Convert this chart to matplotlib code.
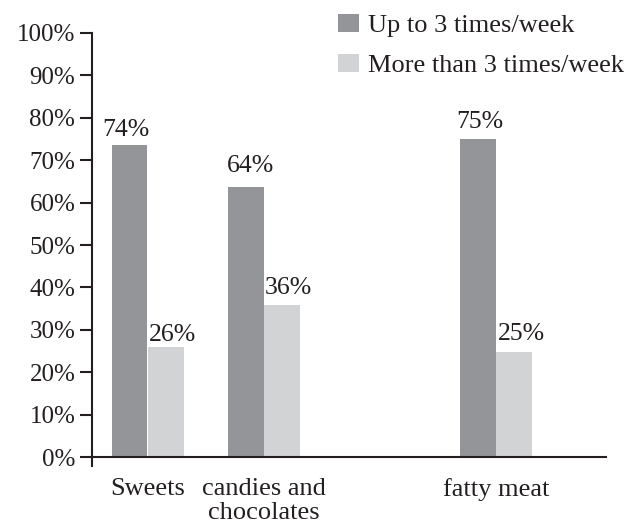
import matplotlib
matplotlib.use("Agg")
import matplotlib.pyplot as plt
from matplotlib.patches import Patch
import numpy as np

categories = ["Sweets", "candies and\nchocolates", "", "fatty meat"]
series_names = ["Up to 3 times/week", "More than 3 times/week"]
up_to_3 = [73.6, 63.7, np.nan, 75.0]
more_than_3 = [25.9, 35.8, np.nan, 24.7]
yticks = [0, 10, 20, 30, 40, 50, 60, 70, 80, 90, 100]

# label placement tweaks (pixels), style only
dark_off = [(-3.5, 9), (5, 15), (0, 0), (2.5, 11)]
light_off = [(6, 6), (6, 11), (0, 0), (7, 12)]

dark = "#939598"
light = "#d1d3d4"
txt = "#231f20"

plt.rcParams["font.family"] = ["Liberation Serif", "DejaVu Serif"]
plt.rcParams["text.color"] = txt

fig = plt.figure(figsize=(6.27, 5.29), dpi=100)
ax = fig.add_axes([92/627, 1-466/529, (606-92)/627, (466-33)/529])

x = np.arange(len(categories))
w = 0.31
b1 = ax.bar(x - w/2, up_to_3, w, color=dark, edgecolor="none")
b2 = ax.bar(x + w/2 + 0.005, more_than_3, w, color=light, edgecolor="none")

for bars, vals, offs in ((b1, up_to_3, dark_off), (b2, more_than_3, light_off)):
    for r, v, (dx, dy) in zip(bars, vals, offs):
        if np.isnan(v):
            continue
        ax.annotate(f"{round(v):d}%", (r.get_x() + r.get_width()/2, v),
                    xytext=(dx, dy), textcoords="offset pixels",
                    ha="center", va="baseline", fontsize=18.5, color=txt)

ax.set_xlim(-0.478, 3.95)
ax.set_ylim(-2.1, 100)
ax.spines["top"].set_visible(False)
ax.spines["right"].set_visible(False)
ax.spines["bottom"].set_position(("data", 0))
ax.spines["left"].set_bounds(-2.1, 100)
for s in ("left", "bottom"):
    ax.spines[s].set_linewidth(1.5)
    ax.spines[s].set_color(txt)

ax.set_yticks(yticks)
ax.set_yticklabels([f"{t}%" for t in yticks], fontsize=18, color=txt)
ax.tick_params(axis="y", length=9, width=1.5, color=txt, pad=3)
ax.set_xticks(x)
ax.set_xticklabels(categories, fontsize=19, color=txt, linespacing=1.12)
ax.tick_params(axis="x", length=0, pad=15)

handles = [Patch(facecolor=dark, edgecolor="none"), Patch(facecolor=light, edgecolor="none")]
fig.legend(handles, series_names, loc="upper left", bbox_to_anchor=(338/627, 1-14/529),
           frameon=False, fontsize=19, handlelength=0.8, handleheight=0.7,
           handletextpad=0.33, labelspacing=0.62, borderpad=0, borderaxespad=0)

fig.savefig("out.png", dpi=100)
